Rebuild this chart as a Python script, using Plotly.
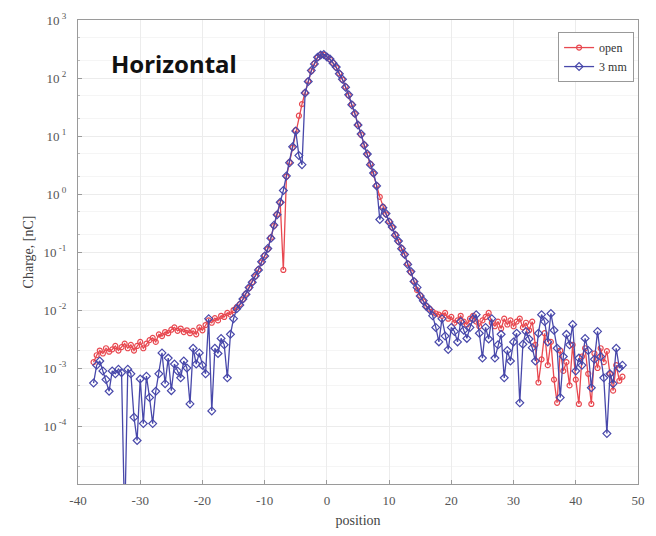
import numpy as np
import plotly.graph_objects as go

# positions (step 0.5)
position = np.arange(-37.5, 47.51, 0.5)

# ---- "open" series (nC) ----
open_left = [1.26e-3, 1.66e-3, 2.0e-3, 1.78e-3, 2.19e-3, 1.91e-3, 2.09e-3, 2.4e-3, 2.0e-3, 2.29e-3,
             2.63e-3, 2.19e-3, 2.51e-3, 2.0e-3, 2.4e-3, 2.82e-3, 2.19e-3, 2.63e-3, 3.02e-3, 3.31e-3,
             2.82e-3, 3.8e-3, 3.55e-3, 4.17e-3, 3.98e-3, 4.57e-3, 5.01e-3, 4.37e-3, 4.79e-3, 4.17e-3,
             4.47e-3, 3.98e-3, 4.37e-3, 3.8e-3, 5.01e-3, 4.47e-3, 5.5e-3, 6.61e-3, 6.03e-3, 7.24e-3,
             6.61e-3, 7.94e-3, 7.59e-3, 8.91e-3, 8.32e-3, 1.0e-2, 1.12e-2]
open_core = [1.26e-2, 1.51e-2, 1.91e-2, 2.4e-2, 3.02e-2, 3.8e-2, 5.01e-2, 6.61e-2, 8.71e-2, 0.112,
             0.178, 0.282, 0.447, 0.708, 0.049, 2.0, 3.55, 6.31, 12.6, 22.4,
             35.5, 56.2, 89.1, 132, 178, 224, 251, 251, 234, 209,
             182, 151, 120, 93.3, 70.8, 50.1, 35.5, 24.0, 15.8, 10.5,
             7.08, 4.79, 3.31, 2.24, 1.41, 0.891, 0.603, 0.447, 0.339, 0.263,
             0.2, 0.151, 0.117, 8.91e-2, 6.31e-2, 4.47e-2, 3.16e-2, 2.2e-2, 1.78e-2, 1.41e-2,
             1.17e-2, 1.05e-2, 9.33e-3, 8.71e-3, 8.32e-3]
open_right = [7.94e-3, 8.91e-3, 7.08e-3, 7.59e-3, 6.03e-3, 6.61e-3, 7.94e-3, 6.31e-3, 5.62e-3, 7.08e-3,
              7.94e-3, 6.31e-3, 5.25e-3, 6.61e-3, 7.59e-3, 8.91e-3, 6.03e-3, 5.25e-3, 6.31e-3, 4.79e-3,
              7.08e-3, 5.62e-3, 6.61e-3, 5.25e-3, 6.31e-3, 7.08e-3, 5.01e-3, 6.03e-3, 4.47e-3, 6.31e-3,
              2.51e-3, 5.62e-4, 1.41e-3, 3.98e-3, 1.12e-3, 2.82e-3, 6.31e-4, 2.51e-4, 2.0e-3, 8.91e-4,
              1.26e-3, 5.01e-4, 2.51e-3, 6.31e-4, 2.4e-4, 1.58e-3, 2.19e-3, 7.94e-4, 2.4e-4, 1.78e-3,
              1.0e-3, 2.19e-3, 1.26e-3, 1.95e-3, 7.94e-4, 4.07e-4, 1.12e-3, 6.03e-4, 7.08e-4]

# ---- "3 mm" series (nC) ----
mm3_left = [5.5e-4, 1.12e-3, 1.32e-3, 8.91e-4, 6.31e-4, 3.98e-4, 8.91e-4, 7.94e-4, 9.55e-4, 8.32e-4,
            2.0e-6, 9.55e-4, 7.94e-4, 1.41e-4, 5.62e-5, 6.46e-4, 1.1e-4, 7.24e-4, 3.09e-4, 1.1e-4,
            3.98e-4, 7.94e-4, 1.82e-3, 5.37e-4, 1.48e-3, 4.07e-4, 1.17e-3, 8.91e-4, 6.76e-4, 1.32e-3,
            1.0e-3, 2.4e-4, 2.19e-3, 1.17e-3, 1.82e-3, 1.12e-3, 7.94e-4, 7.08e-3, 1.82e-4, 2.19e-3,
            1.78e-3, 3.24e-3, 2.51e-3, 6.76e-4, 3.8e-3, 7.08e-3, 1.05e-2]
mm3_core = [1.22e-2, 1.55e-2, 1.86e-2, 2.45e-2, 3.0e-2, 3.9e-2, 4.9e-2, 6.8e-2, 8.5e-2, 0.115,
            0.172, 0.29, 0.44, 0.72, 1.15, 2.05, 3.45, 6.5, 12.2, 4.6,
            3.2, 55.0, 87.0, 135, 175, 228, 248, 254, 230, 212,
            180, 154, 118, 95.0, 69.0, 51.5, 34.5, 24.5, 15.4, 10.8,
            6.9, 4.9, 3.2, 2.3, 1.38, 0.363, 0.58, 0.46, 0.33, 0.27,
            0.195, 0.155, 0.114, 9.1e-2, 6.1e-2, 4.6e-2, 3.1e-2, 2.45e-2, 1.74e-2, 1.45e-2,
            1.15e-2, 1.02e-2, 7.94e-3, 5.01e-3, 2.82e-3]
mm3_right = [7.08e-3, 3.55e-3, 2.09e-3, 5.01e-3, 4.27e-3, 2.82e-3, 6.31e-3, 4.47e-3, 3.24e-3, 5.01e-3,
             7.08e-3, 8.32e-3, 3.98e-3, 1.48e-3, 5.01e-3, 3.16e-3, 7.08e-3, 1.48e-3, 2.51e-3, 3.8e-3,
             6.76e-4, 2.0e-3, 1.32e-3, 2.82e-3, 3.98e-3, 2.51e-4, 2.57e-3, 4.27e-3, 3.16e-3, 2.24e-3,
             1.32e-3, 3.98e-3, 8.32e-3, 6.31e-3, 2.82e-3, 8.71e-3, 4.47e-3, 2.19e-3, 3.09e-4, 1.58e-3,
             3.8e-3, 2.51e-3, 5.62e-3, 8.91e-4, 1.48e-3, 1.12e-3, 3.24e-3, 2.0e-3, 4.57e-4, 1.41e-3,
             4.27e-3, 1.58e-3, 6.76e-4, 7.41e-5, 7.94e-4, 5.37e-4, 2.19e-3, 1.0e-3, 1.12e-3]

open_charge = open_left + open_core + open_right
mm3_charge = mm3_left + mm3_core + mm3_right

ytick_vals = [1e-5, 1e-4, 1e-3, 1e-2, 1e-1, 1e0, 1e1, 1e2, 1e3]
ytick_text = ["", "10<sup> -4</sup>", "10<sup> -3</sup>", "10<sup> -2</sup>", "10<sup> -1</sup>",
              "10<sup> 0</sup>", "10<sup> 1</sup>", "10<sup> 2</sup>", "10<sup> 3</sup>"]
xtick_vals = [-40, -30, -20, -10, 0, 10, 20, 30, 40, 50]
xtick_text = ["-40", "-30", "-20", "-10", "0", "10", "20", "30", "40", "50"]

RED = "rgb(232,72,80)"
BLUE = "rgb(72,72,170)"

fig = go.Figure()
fig.add_trace(go.Scatter(
    x=position, y=open_charge, mode="lines+markers", name="open",
    line=dict(color=RED, width=1.3),
    marker=dict(symbol="circle-open", size=5, color=RED, line=dict(width=1.2)),
))
fig.add_trace(go.Scatter(
    x=position, y=mm3_charge, mode="lines+markers", name="3 mm",
    line=dict(color=BLUE, width=1.3),
    marker=dict(symbol="diamond-open", size=6, color=BLUE, line=dict(width=1.2)),
))

serif = "Liberation Serif, Times New Roman, serif"

fig.update_layout(
    width=656, height=536,
    margin=dict(l=78, r=11, t=16, b=52),
    paper_bgcolor="white", plot_bgcolor="white",
    font=dict(family=serif, size=12, color="#444"),
    showlegend=True,
    legend=dict(
        x=0.993, y=0.974, xanchor="right", yanchor="top",
        bgcolor="white", bordercolor="#999", borderwidth=1,
        font=dict(family=serif, size=12, color="#333"),
        itemwidth=30, tracegroupgap=0,
    ),
    xaxis=dict(
        range=[-40, 50], tickvals=xtick_vals, ticktext=xtick_text,
        showgrid=True, gridcolor="#ececec", gridwidth=1,
        showline=True, linecolor="#9a9a9a", linewidth=1, mirror=True,
        ticks="inside", ticklen=4, tickcolor="#9a9a9a",
        zeroline=False, ticklabelstandoff=4,
        title=dict(text="position", font=dict(family=serif, size=14, color="#444"), standoff=8),
        tickfont=dict(family=serif, size=13, color="#555"),
    ),
    yaxis=dict(
        type="log", range=[-5, 3],
        tickvals=ytick_vals, ticktext=ytick_text,
        showgrid=True, gridcolor="#ececec", gridwidth=1,
        minor=dict(showgrid=True, gridcolor="#f5f5f5", ticks="inside", ticklen=2, tickcolor="#bbbbbb"),
        showline=True, linecolor="#9a9a9a", linewidth=1, mirror=True,
        ticks="inside", ticklen=4, tickcolor="#9a9a9a",
        zeroline=False, ticklabelstandoff=8,
        title=dict(text="Charge, [nC]", font=dict(family=serif, size=14, color="#444"), standoff=6),
        tickfont=dict(family=serif, size=13, color="#555"),
    ),
    annotations=[dict(
        text="<b>Horizontal</b>", x=0.056, y=0.906, xref="paper", yref="paper",
        xanchor="left", yanchor="middle", showarrow=False,
        font=dict(family="Noto Sans, Liberation Sans, Arial, sans-serif", size=24, color="#111"),
    )],
)

fig.write_html("out.html")
